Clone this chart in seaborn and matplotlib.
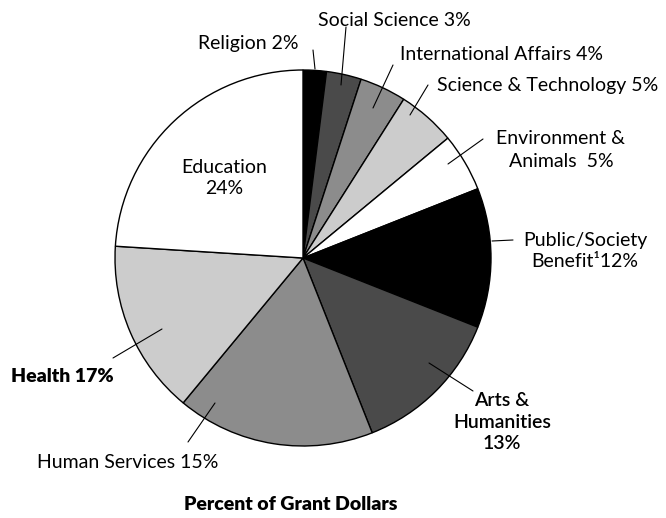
import matplotlib
matplotlib.use("Agg")
import numpy as np
import matplotlib.pyplot as plt
import seaborn as sns

# grant dollars by subject, percent (clockwise from 12 o'clock)
categories = ["Religion", "Social Science", "International Affairs",
              "Science & Technology", "Environment & Animals",
              "Public/Society Benefit", "Arts & Humanities",
              "Health", "Human Services", "Education"]
shares = [2, 3, 4, 5, 5, 12, 13, 17, 15, 24]
labels = ["Religion 2%", "Social Science 3%", "International Affairs 4%",
          "Science & Technology 5%", "Environment &\nAnimals  5%",
          "Public/Society\nBenefit\u00b912%", "Arts &\nHumanities\n13%",
          "Health 17%", "Human Services 15%", "Education\n24%"]
title = "Percent of Grant Dollars"

# slice fills, greys as in the print original
fills = ["#000000", "#4a4a4a", "#8c8c8c", "#cccccc", "#ffffff",
         "#000000", "#4a4a4a", "#8c8c8c", "#cccccc", "#ffffff"]

# layout in pixels of the 666x518 picture: text anchor, leader out, leader in
W, H = 666, 518
CX, CY, R = 303, 258, 188
text_pos = [(248, 43), (394, 20), (501, 54), (548, 85), (561, 150),
            (585, 251), (502, 422), (62, 377), (128, 463), (224, 178)]
leaders = [((313, 50), (315, 69)), ((346, 27), (341, 85)),
           ((393, 65), (373, 108)), ((428, 85), (410, 115)),
           ((483, 139), (448, 164)), ((513, 240), (492, 241)),
           ((473, 391), (429, 363)), ((113, 358), (162, 329)),
           ((188, 442), (215, 403)), None]
weights = ["normal"] * 5 + ["normal", "semibold", "heavy", "normal", "normal"]
spacing = [1.3] * 4 + [1.45] + [1.3] * 5

sns.set_theme(style="white")
plt.rcParams["font.family"] = ["Lato", "DejaVu Sans"]


def flip(p):
    return (p[0], H - p[1])


fig = plt.figure(figsize=(W / 100, H / 100), dpi=100)
ax = fig.add_axes([0, 0, 1, 1])

ax.pie(shares, colors=fills, startangle=90, counterclock=False,
       center=(CX, H - CY), radius=R,
       wedgeprops=dict(edgecolor="black", linewidth=1.0))

for txt, pos, lead, wt, ls in zip(labels, text_pos, leaders, weights, spacing):
    ax.text(*flip(pos), txt, ha="center", va="center", fontsize=14,
            fontweight=wt, color="black", linespacing=ls)
    if lead is not None:
        (x0, y0), (x1, y1) = flip(lead[0]), flip(lead[1])
        ax.plot([x0, x1], [y0, y1], color="black", linewidth=0.8)

ax.text(291, H - 505, title, ha="center", va="center", fontsize=14,
        fontweight="heavy", color="black")

ax.set_xlim(0, W)
ax.set_ylim(0, H)
ax.set_aspect("equal")
ax.axis("off")

fig.savefig("out.png", dpi=100, facecolor="white")
